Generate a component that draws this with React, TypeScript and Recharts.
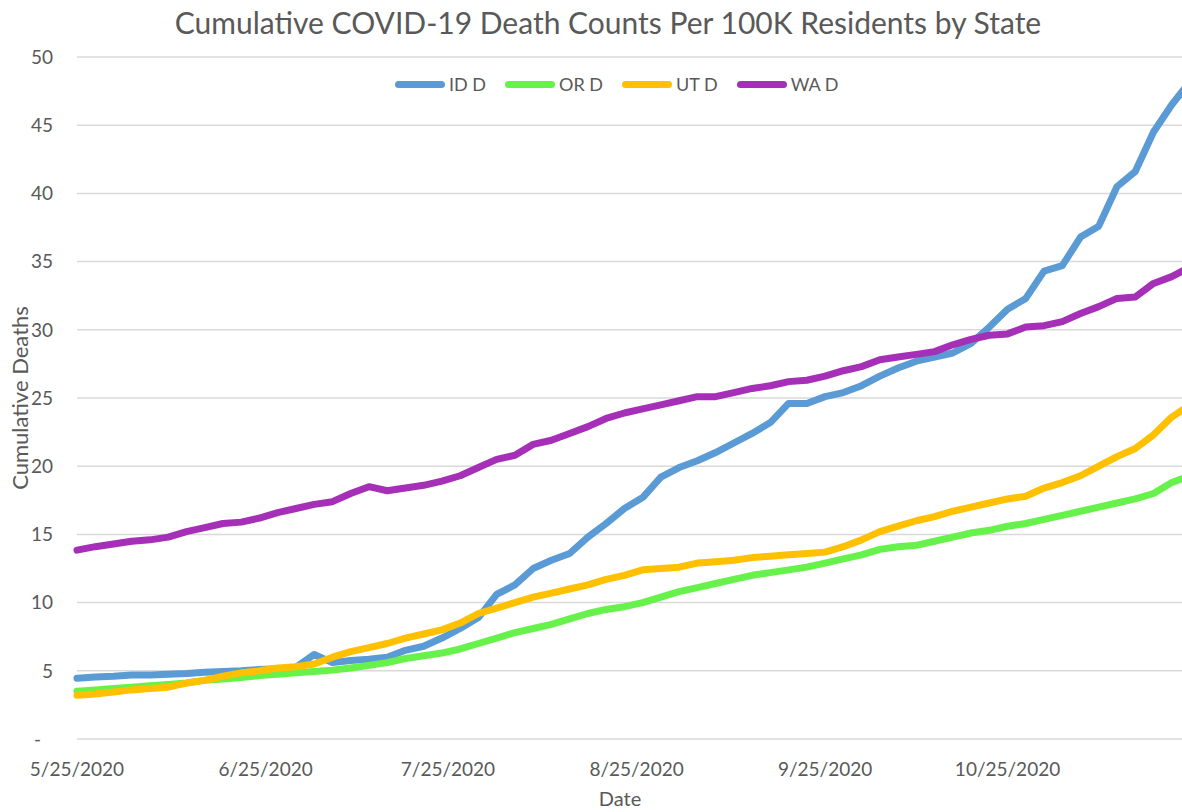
import React from "react";
import { LineChart, Line, XAxis, YAxis, CartesianGrid, Legend } from "recharts";

// sample dates (every 3 days)
const dates = [
  "5/25/2020", "5/28/2020", "5/31/2020", "6/3/2020", "6/6/2020", "6/9/2020", "6/12/2020", "6/15/2020",
  "6/18/2020", "6/21/2020", "6/24/2020", "6/27/2020", "6/30/2020", "7/3/2020", "7/6/2020", "7/9/2020",
  "7/12/2020", "7/15/2020", "7/18/2020", "7/21/2020", "7/24/2020", "7/27/2020", "7/30/2020", "8/2/2020",
  "8/5/2020", "8/8/2020", "8/11/2020", "8/14/2020", "8/17/2020", "8/20/2020", "8/23/2020", "8/26/2020",
  "8/29/2020", "9/1/2020", "9/4/2020", "9/7/2020", "9/10/2020", "9/13/2020", "9/16/2020", "9/19/2020",
  "9/22/2020", "9/25/2020", "9/28/2020", "10/1/2020", "10/4/2020", "10/7/2020", "10/10/2020", "10/13/2020",
  "10/16/2020", "10/19/2020", "10/22/2020", "10/25/2020", "10/28/2020", "10/31/2020", "11/3/2020", "11/6/2020",
  "11/9/2020", "11/12/2020", "11/15/2020", "11/18/2020", "11/21/2020", "11/24/2020",
];

const idDeaths = [
  4.45, 4.55, 4.6, 4.7, 4.7, 4.75, 4.8, 4.9, 4.95, 5.0, 5.1, 5.15, 5.25, 6.2, 5.6, 5.75,
  5.85, 6.0, 6.5, 6.8, 7.4, 8.1, 8.9, 10.6, 11.3, 12.5, 13.1, 13.6, 14.8, 15.8, 16.9, 17.7,
  19.2, 19.9, 20.4, 21.0, 21.7, 22.4, 23.2, 24.6, 24.6, 25.1, 25.4, 25.9, 26.6, 27.2, 27.7, 28.0,
  28.3, 29.0, 30.2, 31.5, 32.3, 34.3, 34.7, 36.8, 37.6, 40.5, 41.6, 44.5, 46.5, 48.2,
];
const orDeaths = [
  3.5, 3.6, 3.7, 3.8, 3.9, 4.0, 4.1, 4.3, 4.4, 4.5, 4.65, 4.75, 4.85, 4.95, 5.05, 5.2,
  5.4, 5.6, 5.9, 6.1, 6.3, 6.6, 7.0, 7.4, 7.8, 8.1, 8.4, 8.8, 9.2, 9.5, 9.7, 10.0,
  10.4, 10.8, 11.1, 11.4, 11.7, 12.0, 12.2, 12.4, 12.6, 12.9, 13.2, 13.5, 13.9, 14.1, 14.2, 14.5,
  14.8, 15.1, 15.3, 15.6, 15.8, 16.1, 16.4, 16.7, 17.0, 17.3, 17.6, 18.0, 18.8, 19.3,
];
const utDeaths = [
  3.2, 3.3, 3.45, 3.6, 3.7, 3.8, 4.1, 4.3, 4.6, 4.85, 5.0, 5.2, 5.3, 5.5, 6.0, 6.4,
  6.7, 7.0, 7.4, 7.7, 8.0, 8.5, 9.2, 9.6, 10.0, 10.4, 10.7, 11.0, 11.3, 11.7, 12.0, 12.4,
  12.5, 12.6, 12.9, 13.0, 13.1, 13.3, 13.4, 13.5, 13.6, 13.7, 14.1, 14.6, 15.2, 15.6, 16.0, 16.3,
  16.7, 17.0, 17.3, 17.6, 17.8, 18.4, 18.8, 19.3, 20.0, 20.7, 21.3, 22.3, 23.6, 24.5,
];
const waDeaths = [
  13.85, 14.1, 14.3, 14.5, 14.6, 14.8, 15.2, 15.5, 15.8, 15.9, 16.2, 16.6, 16.9, 17.2, 17.4, 18.0,
  18.5, 18.2, 18.4, 18.6, 18.9, 19.3, 19.9, 20.5, 20.8, 21.6, 21.9, 22.4, 22.9, 23.5, 23.9, 24.2,
  24.5, 24.8, 25.1, 25.1, 25.4, 25.7, 25.9, 26.2, 26.3, 26.6, 27.0, 27.3, 27.8, 28.0, 28.2, 28.4,
  28.9, 29.3, 29.6, 29.7, 30.2, 30.3, 30.6, 31.2, 31.7, 32.3, 32.4, 33.4, 33.9, 34.6,
];

const xTickLabels = ["5/25/2020", "6/25/2020", "7/25/2020", "8/25/2020", "9/25/2020", "10/25/2020"];
const yTicks = [0, 5, 10, 15, 20, 25, 30, 35, 40, 45, 50];

const FONT = "Lato, 'Open Sans', sans-serif";
const TEXT = "#595959";

const toUtc = (s: string) => {
  const [m, d, y] = s.split("/").map(Number);
  return Date.UTC(y, m - 1, d);
};
const dayOf = (s: string) => Math.round((toUtc(s) - toUtc(dates[0])) / 86400000);

const data = dates.map((d, i) => ({
  day: dayOf(d),
  id: idDeaths[i],
  or: orDeaths[i],
  ut: utDeaths[i],
  wa: waDeaths[i],
}));
const xTicks = xTickLabels.map(dayOf);
const lastDay = dayOf(dates[dates.length - 1]);

const YTick = (props: any) => {
  const { x, y, payload } = props;
  const zero = payload.value === 0;
  return (
    <text x={zero ? x - 12 : x} y={y} dy="0.355em" textAnchor="end" fill={TEXT} fontSize={19} fontFamily={FONT}>
      {zero ? "-" : payload.value}
    </text>
  );
};

const renderLegend = (props: any) => (
  <div style={{ display: "flex", alignItems: "center", fontFamily: FONT, fontSize: 18, color: TEXT }}>
    {props.payload.map((p: any) => (
      <div key={p.value} style={{ display: "flex", alignItems: "center", marginRight: 19 }}>
        <span style={{ display: "inline-block", width: 50, height: 7, borderRadius: 4, background: p.color, marginRight: 4 }} />
        <span>{p.value}</span>
      </div>
    ))}
  </div>
);

export default function App() {
  return (
    <div style={{ position: "absolute", left: 0, top: 0, width: 1182, height: 812, overflow: "hidden", background: "#fff" }}>
      <div style={{ position: "absolute", left: 0, top: 4, width: 1216, textAlign: "center", fontFamily: FONT, fontSize: 30, color: TEXT, whiteSpace: "nowrap" }}>
        Cumulative COVID-19 Death Counts Per 100K Residents by State
      </div>
      <div style={{ position: "absolute", left: 19, top: 398, transform: "translate(-50%, -50%) rotate(-90deg)", fontFamily: FONT, fontSize: 22, color: TEXT, whiteSpace: "nowrap" }}>
        Cumulative Deaths
      </div>
      <div style={{ position: "absolute", left: 620, top: 798, transform: "translate(-50%, -50%)", fontFamily: FONT, fontSize: 20, color: TEXT }}>
        Date
      </div>
      <LineChart width={1190} height={812} data={data} margin={{ top: 57, right: 0, left: 0, bottom: 0 }}>
        <CartesianGrid horizontal vertical={false} stroke="#d9d9d9" strokeWidth={1.5} />
        <XAxis
          dataKey="day"
          type="number"
          domain={[0, lastDay]}
          ticks={xTicks}
          tickFormatter={(v: number) => xTickLabels[xTicks.indexOf(v)]}
          axisLine={false}
          tickLine={false}
          tickSize={0}
          tickMargin={24}
          height={73}
          tick={{ fill: TEXT, fontSize: 19, fontFamily: FONT }}
        />
        <YAxis
          type="number"
          domain={[0, 50]}
          ticks={yTicks}
          axisLine={false}
          tickLine={false}
          tickSize={0}
          tickMargin={24}
          width={77}
          tick={<YTick />}
        />
        <Legend
          layout="horizontal"
          verticalAlign="middle"
          align="center"
          content={renderLegend}
          wrapperStyle={{ left: 395, top: 73, width: 500, height: 22 }}
        />
        <Line name="ID D" dataKey="id" stroke="#5b9bd5" strokeWidth={7} strokeLinecap="round" strokeLinejoin="round" dot={false} isAnimationActive={false} />
        <Line name="OR D" dataKey="or" stroke="#66f24a" strokeWidth={7} strokeLinecap="round" strokeLinejoin="round" dot={false} isAnimationActive={false} />
        <Line name="UT D" dataKey="ut" stroke="#ffc000" strokeWidth={7} strokeLinecap="round" strokeLinejoin="round" dot={false} isAnimationActive={false} />
        <Line name="WA D" dataKey="wa" stroke="#a52fb7" strokeWidth={7} strokeLinecap="round" strokeLinejoin="round" dot={false} isAnimationActive={false} />
      </LineChart>
    </div>
  );
}
